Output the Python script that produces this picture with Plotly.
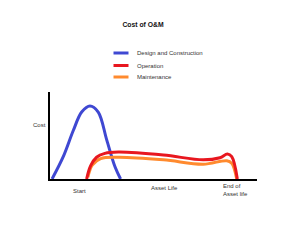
import plotly.graph_objects as go

# ---- data ----
series_names = ["Design and Construction", "Operation", "Maintenance"]
series_colors = ["#3f48d2", "#e8171f", "#ff8a2e"]

design_x = [1.0, 6.4, 11.3, 15.3, 19.3, 23.3, 27.4, 31.4, 34.1]
design_y = [0, 25.6, 56, 77, 84, 77, 45, 14, 0]

operation_x = [17.7, 19.6, 22.5, 26.5, 33, 54.8, 74, 82.1, 85.7, 87.8, 90.5]
operation_y = [0, 15, 25, 29.5, 31, 27.6, 22, 24.5, 28.7, 25.6, 0]

maint_x = [18.3, 20.4, 24.5, 33, 54.8, 74, 85.4, 87.8, 90.2]
maint_y = [2, 16, 23.5, 25, 22, 17, 21, 18, 0]

title_text = "Cost of O&M"
y_label = "Cost"
x_labels = ["Start", "Asset Life", "End of<br>Asset life"]

FONT = "Liberation Sans, Arial, sans-serif"

W, H = 300, 243
L, R, T, B = 50, 257, 92, 179


def px(x):
    return (x - L) / (R - L)


def py(y):
    return (B - y) / (B - T)


fig = go.Figure()
for xs, ys, name, col in [
    (design_x, design_y, series_names[0], series_colors[0]),
    (maint_x, maint_y, series_names[2], series_colors[2]),
    (operation_x, operation_y, series_names[1], series_colors[1]),
]:
    fig.add_trace(go.Scatter(x=xs, y=ys, mode="lines", name=name,
                             line=dict(color=col, width=3, shape="spline", smoothing=1),
                             showlegend=False, hoverinfo="skip"))

# manual legend
legend_rows = [53, 65.5, 77]
shapes = []
annotations = []
for i, (name, col) in enumerate(zip(series_names, series_colors)):
    yy = py(legend_rows[i])
    shapes.append(dict(type="line", xref="paper", yref="paper",
                       x0=px(113.5), x1=px(128.5), y0=yy, y1=yy,
                       line=dict(color=col, width=3)))
    annotations.append(dict(xref="paper", yref="paper", x=px(134.5), y=yy,
                            text=name, showarrow=False, xanchor="left", yanchor="middle",
                            font=dict(family=FONT, size=6, color="#333")))

lab_font = dict(family=FONT, size=6, color="#333")
annotations.append(dict(xref="paper", yref="paper", x=px(39), y=py(125), text=y_label,
                        showarrow=False, xanchor="center", yanchor="middle", font=lab_font))
annotations.append(dict(xref="paper", yref="paper", x=px(79), y=py(191), text=x_labels[0],
                        showarrow=False, xanchor="center", yanchor="middle", font=lab_font))
annotations.append(dict(xref="paper", yref="paper", x=px(164), y=py(188), text=x_labels[1],
                        showarrow=False, xanchor="center", yanchor="middle", font=lab_font))
annotations.append(dict(xref="paper", yref="paper", x=px(235), y=py(189.5), text=x_labels[2],
                        showarrow=False, xanchor="center", yanchor="middle", align="left",
                        font=lab_font))

fig.update_layout(
    width=W, height=H,
    margin=dict(l=L, r=W - R, t=T, b=H - B),
    paper_bgcolor="white", plot_bgcolor="white",
    title=dict(text="<b>" + title_text + "</b>", x=143 / W, xanchor="center",
               y=1 - 25 / H, yanchor="middle", yref="container",
               font=dict(family=FONT, size=6.8, color="#111")),
    xaxis=dict(range=[0, 100], showgrid=False, zeroline=False, showticklabels=False,
               ticks="", showline=True, linecolor="black", linewidth=2),
    yaxis=dict(range=[0, 100], showgrid=False, zeroline=False, showticklabels=False,
               ticks="", showline=True, linecolor="black", linewidth=2),
    shapes=shapes, annotations=annotations, showlegend=False,
)

fig.write_html("out.html")
